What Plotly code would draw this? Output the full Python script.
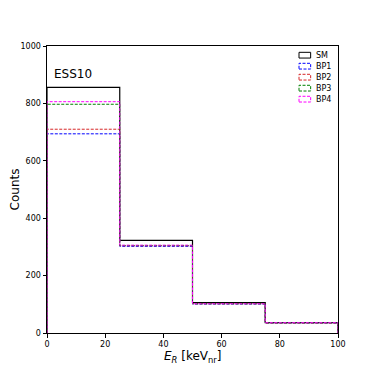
import plotly.graph_objects as go

edges = [0, 25, 50, 75, 100]
names = ["SM", "BP1", "BP2", "BP3", "BP4"]
counts = {
    "SM": [856, 323, 106, 36],
    "BP1": [694, 302, 101, 35],
    "BP2": [710, 304, 102, 35],
    "BP3": [797, 305, 102, 36],
    "BP4": [806, 306, 102, 36],
}
colors = {"SM": "black", "BP1": "blue", "BP2": "#d62728", "BP3": "green", "BP4": "magenta"}


def step_xy(vals):
    # outline of a step histogram
    xs = [edges[0]] + edges[:-1] + [edges[-1], edges[-1]]
    ys = [0] + vals + [vals[-1], 0]
    return xs, ys


fig = go.Figure()
for i, n in enumerate(names):
    xs, ys = step_xy(counts[n])
    dash = "solid" if n == "SM" else "3px,1.5px"
    fig.add_trace(go.Scatter(
        x=xs, y=ys, name=n, mode="lines", line_shape="hv",
        line=dict(color=colors[n], width=1.2 if n == "SM" else 1, dash=dash),
    ))
    # hand-made legend with box patches like matplotlib
    yl = 0.968 - i * 0.0383
    fig.add_shape(type="rect", xref="paper", yref="paper",
                  x0=0.866, x1=0.906, y0=yl - 0.01, y1=yl + 0.01,
                  line=dict(color=colors[n], width=1, dash=dash),
                  fillcolor="rgba(0,0,0,0)")
    fig.add_annotation(xref="paper", yref="paper", x=0.918, y=yl, text=n,
                       showarrow=False, xanchor="left", yanchor="middle",
                       font=dict(size=8, color="black"))

fig.add_annotation(x=1.8, y=903, text="ESS10", showarrow=False, xanchor="left",
                   yanchor="middle", font=dict(size=12, color="black"))
# x label placed by hand (plotly puts the axis title a bit too low)
fig.add_annotation(xref="paper", yref="paper", x=0.5, y=-0.082,
                   text="<i>E</i><sub><i>R</i></sub> [keV<sub>nr</sub>]",
                   showarrow=False, xanchor="center", yanchor="middle",
                   font=dict(size=12, color="black"))

axis = dict(showline=True, linecolor="black", linewidth=1, mirror=True,
            ticks="outside", ticklen=3.5, tickcolor="black", showgrid=False,
            zeroline=False, tickfont=dict(size=8, color="black"), automargin=False)
fig.update_xaxes(range=[0, 100], tickvals=[0, 20, 40, 60, 80, 100], **axis)
fig.update_yaxes(range=[0, 1000], tickvals=[0, 200, 400, 600, 800, 1000],
                 title=dict(text="Counts", font=dict(size=12, color="black"), standoff=6), **axis)

fig.update_layout(
    width=374, height=374,
    margin=dict(l=39, r=44, t=38, b=49),
    plot_bgcolor="white", paper_bgcolor="white",
    font=dict(family="DejaVu Sans"),
    showlegend=False,
)

fig.write_html("out.html")
